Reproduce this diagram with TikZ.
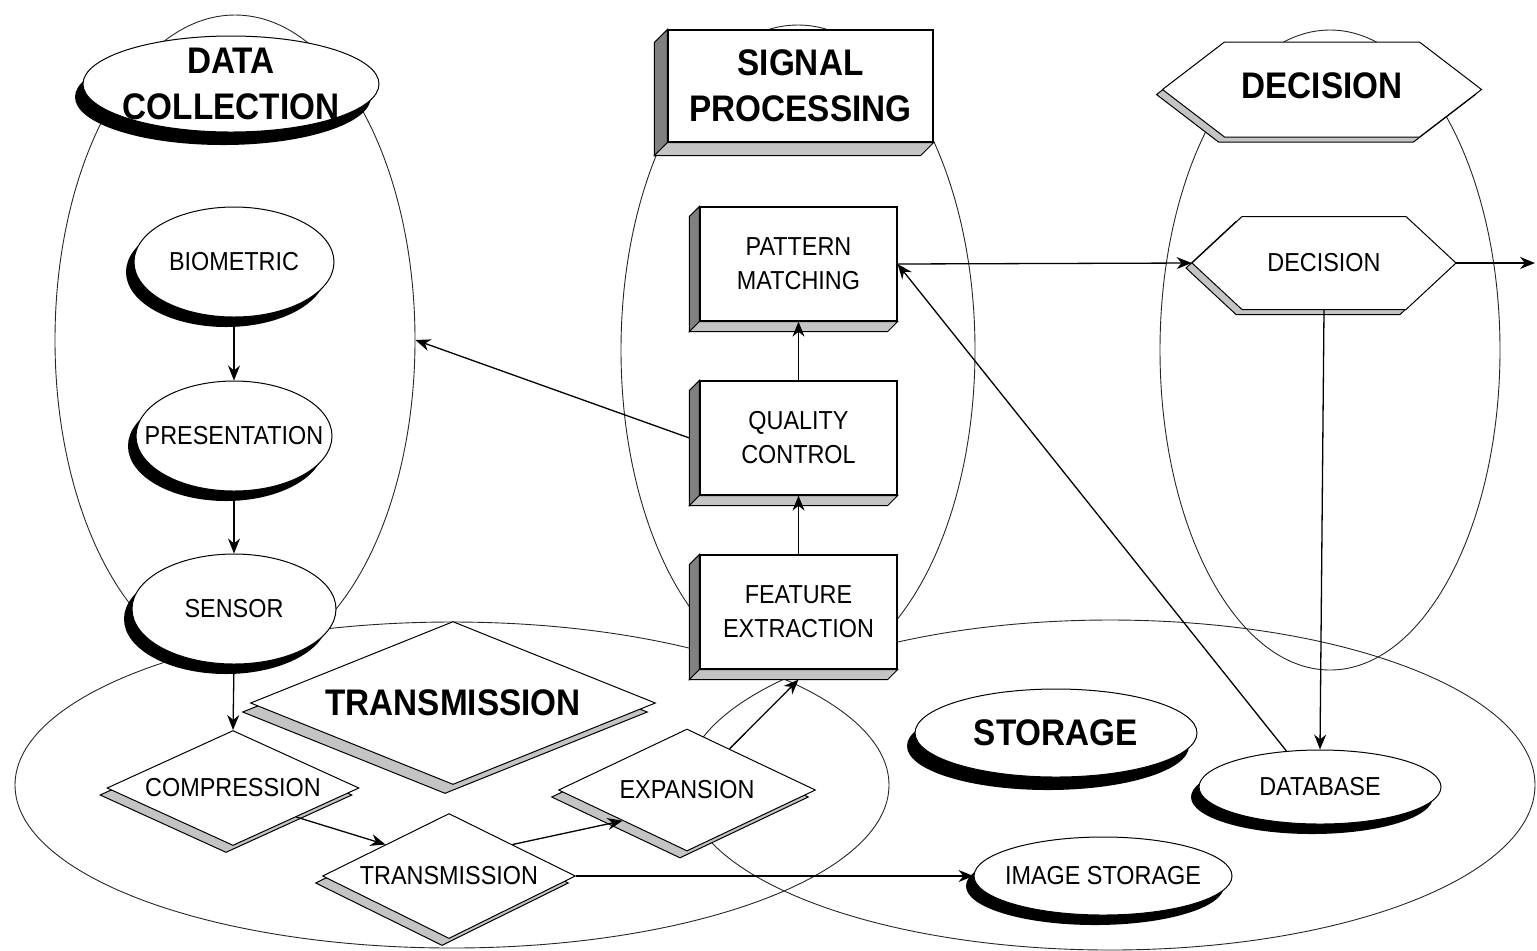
\documentclass[tikz,border=0pt]{standalone}
\usepackage{fontspec}
\setmainfont{Liberation Sans}
\newfontfamily\condfont[FakeStretch=0.9]{Liberation Sans}
\usetikzlibrary{shapes.geometric,arrows.meta,shadows,calc}
\definecolor{faceD}{HTML}{808080}
\definecolor{faceL}{HTML}{C4C4C4}
\begin{document}
\begin{tikzpicture}[x=0.5pt,y=-0.5pt,
  big/.style={ellipse, draw=black!85, line width=0.45pt, inner sep=0pt},
  small/.style={font=\condfont\fontsize{13}{17}\selectfont, align=center},
  ttl/.style={font=\condfont\bfseries\fontsize{18.5}{23}\selectfont, align=center},
  oval/.style={ellipse, draw, fill=white, line width=0.5pt, inner sep=0pt,
    general shadow={fill=black, shadow xshift=-4pt, shadow yshift=-5pt}},
  ovalT/.style={ellipse, draw, fill=white, line width=0.5pt, inner sep=0pt,
    general shadow={fill=black, shadow xshift=-4pt, shadow yshift=-6.5pt}},
  box/.style={rectangle, draw, fill=white, line width=0.6pt, inner sep=0pt},
  dia/.style={diamond, draw, fill=white, line width=0.5pt, inner sep=0pt, aspect=2.5,
    general shadow={fill=faceL, draw=black, line width=0.5pt, shadow xshift=-3.5pt, shadow yshift=-3.5pt}},
  diaT/.style={diamond, draw, fill=white, line width=0.5pt, inner sep=0pt, aspect=2.5,
    general shadow={fill=faceL, draw=black, line width=0.5pt, shadow xshift=-4pt, shadow yshift=-4.5pt}},
  face/.style={draw=black, line width=0.5pt},
  arr/.style={-{Stealth[length=7.5pt,width=6pt]}, line width=0.65pt},
  hexa/.style={draw=black, line width=0.5pt, fill=white},
  hexs/.style={draw=black, line width=0.5pt, fill=faceL}
]
\useasboundingbox (0,0) rectangle (1537,950);

% ---------- big group ellipses ----------
\node[big, minimum width=180pt, minimum height=325pt] (dc) at (235,340) {};
\node[big, minimum width=177pt, minimum height=325pt] (sp) at (798,350) {};
\node[big, minimum width=170pt, minimum height=320pt] (dm) at (1330,350) {};
\node[big, minimum width=437pt, minimum height=163pt] (tr) at (452,785) {};
\node[big, minimum width=425pt, minimum height=165pt] (st) at (1110,785) {};

% ---------- data collection ----------
\node[ovalT, minimum width=148pt, minimum height=48pt,
  label={[ttl]center:{DATA\\COLLECTION}}] (dct) at (231,84) {};
\node[oval, minimum width=100pt, minimum height=55pt,
  label={[small]center:BIOMETRIC}] (bio) at (234,262) {};
\node[oval, minimum width=98pt, minimum height=55pt,
  label={[small]center:PRESENTATION}] (pres) at (234,436) {};
\node[oval, minimum width=102pt, minimum height=55pt,
  label={[small]center:SENSOR}] (sensor) at (234,609) {};

% ---------- signal processing ----------
\node[box, ttl, minimum width=132.5pt, minimum height=56pt] (spt) at (800.5,86) {SIGNAL\\PROCESSING};
\filldraw[face, fill=faceD] (spt.north west) -- ++(-13,13) -- ([shift={(-13,13)}]spt.south west) -- (spt.south west) -- cycle;
\filldraw[face, fill=faceL] (spt.south west) -- ++(-13,13) -- ([shift={(-13,13)}]spt.south east) -- (spt.south east) -- cycle;

\node[box, small, minimum width=98.5pt, minimum height=57pt] (pm) at (798.5,264) {PATTERN\\MATCHING};
\node[box, small, minimum width=98.5pt, minimum height=57pt] (qc) at (798.5,438) {QUALITY\\CONTROL};
\node[box, small, minimum width=98.5pt, minimum height=57pt] (fe) at (798.5,612) {FEATURE\\EXTRACTION};
\foreach \n in {pm,qc,fe}{
  \filldraw[face, fill=faceD] (\n.north west) -- ++(-10,10) -- ([shift={(-10,10)}]\n.south west) -- (\n.south west) -- cycle;
  \filldraw[face, fill=faceL] (\n.south west) -- ++(-10,10) -- ([shift={(-10,10)}]\n.south east) -- (\n.south east) -- cycle;
}

% ---------- decision ----------
\begin{scope}[shift={(1322,89.5)}]
  \filldraw[hexs, shift={(-6,5)}] (-97.5,-47.5) -- (97.5,-47.5) -- (159.5,0) -- (97.5,47.5) -- (-97.5,47.5) -- (-159.5,0) -- cycle;
  \filldraw[hexa] (-97.5,-47.5) -- (97.5,-47.5) -- (159.5,0) -- (97.5,47.5) -- (-97.5,47.5) -- (-159.5,0) -- cycle;
\end{scope}
\node[ttl, minimum width=97.5pt, minimum height=47.5pt, inner sep=0pt] (dt) at (1322,86) {DECISION};

\begin{scope}[shift={(1324,263)}]
  \filldraw[hexs, shift={(-6,5)}] (-82,-46.5) -- (82,-46.5) -- (132,0) -- (82,46.5) -- (-82,46.5) -- (-132,0) -- cycle;
  \filldraw[hexa] (-82,-46.5) -- (82,-46.5) -- (132,0) -- (82,46.5) -- (-82,46.5) -- (-132,0) -- cycle;
\end{scope}
\node[small, minimum width=82pt, minimum height=46.5pt, inner sep=0pt] (dec) at (1324,263) {DECISION};
\coordinate (decL) at ([xshift=-25pt]dec.west);
\coordinate (decR) at ([xshift=25pt]dec.east);
\coordinate (out) at (1535,263);

% ---------- transmission ----------
\node[diaT, ttl, minimum width=202.5pt, minimum height=81.5pt] (trt) at (453,703) {TRANSMISSION};
\node[dia, small, minimum width=126pt, minimum height=57.5pt] (comp) at (233,788) {COMPRESSION};
\node[dia, small, minimum width=126.5pt, minimum height=62.5pt] (trans) at (449,876) {TRANSMISSION};
\node[dia, small, minimum width=128.5pt, minimum height=61pt] (exp) at (687,790) {EXPANSION};

% ---------- storage ----------
\node[ovalT, minimum width=141pt, minimum height=44pt,
  label={[ttl]center:STORAGE}] (stt) at (1056,733) {};
\node[oval, minimum width=121pt, minimum height=37pt,
  label={[small]center:DATABASE}] (db) at (1320,787) {};
\node[oval, minimum width=129pt, minimum height=39pt,
  label={[small]center:IMAGE STORAGE}] (imgst) at (1103,876) {};

% ---------- connectors ----------
\draw[arr] (bio.south) -- (pres.north);
\draw[arr] (pres.south) -- (sensor.north);
\draw[arr] (sensor.south) -- (comp.north);
\draw[arr] (comp.south east) -- (trans.north west);
\draw[arr] (trans.north east) -- (exp.south west);
\draw[arr] (trans.east) -- (imgst.west);
\draw[arr] ($(exp.north)!0.33!(exp.east)$) -- ([yshift=-5pt]fe.south);
\draw[arr] (fe.north) -- (qc.south);
\draw[arr] (qc.north) -- (pm.south);
\draw[arr] ([xshift=-5pt]qc.west) -- (dc.east);
\draw[arr] (pm.east) -- (decL);
\draw[arr] (db.133) -- (pm.east);
\draw[arr] (dec.south) -- (db.north);
\draw[arr] (decR) -- (out);
\end{tikzpicture}
\end{document}
